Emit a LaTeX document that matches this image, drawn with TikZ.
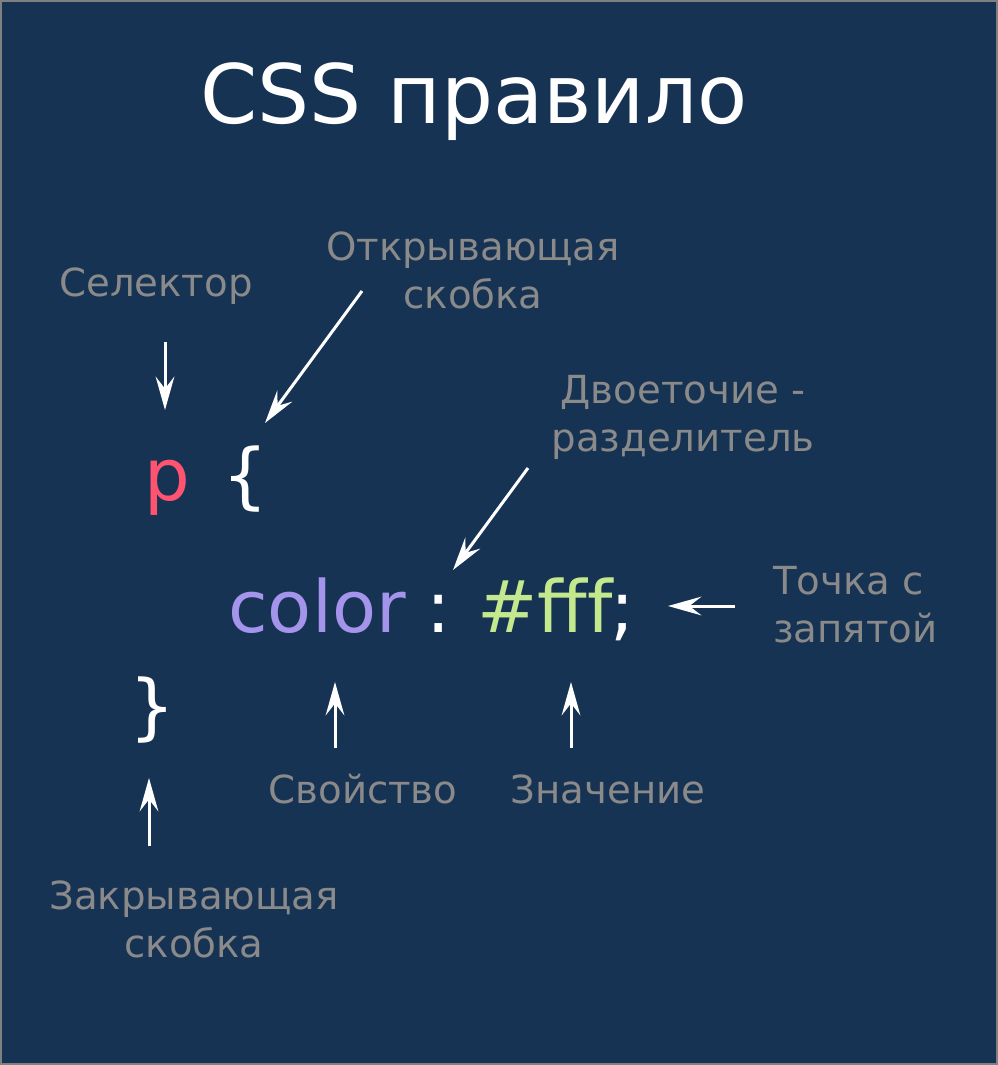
\documentclass[tikz,border=0pt]{standalone}
\usepackage{fontspec}
\setmainfont{DejaVu Sans}
\usepackage{tikz}
\usetikzlibrary{arrows.meta,positioning,calc}

\definecolor{bgblue}{HTML}{173354}
\definecolor{framegray}{HTML}{808080}
\definecolor{notegray}{HTML}{8A8A8A}
\definecolor{selpink}{HTML}{FF5370}
\definecolor{proppurple}{HTML}{A594EC}
\definecolor{valgreen}{HTML}{C3E88D}

\begin{document}
\begin{tikzpicture}[%
    x=0.75pt, y=-0.75pt,
    note/.style={text=notegray,font=\fontsize{29}{36}\selectfont,align=center,inner sep=0pt},
    code/.style={font=\fontsize{54}{60}\selectfont,inner sep=0pt,anchor=base},
    pointer/.style={draw=white,line width=2.25pt,
        -{Stealth[length=25pt,width=14pt,inset=9pt]}}
]

% ---------------- Background ----------------
\useasboundingbox (0,0) rectangle (998,1065);
\fill[bgblue] (0,0) rectangle (998,1065);
\draw[framegray,line width=1.5pt] (1,1) rectangle (997,1064);

% ---------------- Title ----------------
\node[code,text=white,font=\fontsize{61.5}{70}\selectfont] (title) at (474,123) {CSS правило};

% ---------------- Code ----------------
\node[code,text=selpink] (sel) at (167,500) {p};
\node[code,text=white] (open) at (245,500) {\{};
\node[code,text=proppurple] (prop) at (317,632) {color};
\node[code,text=white] (colon) at (439,632) {:};
\node[code,text=valgreen] (val) at (545,632) {\#fff};
\node[code,text=white] (semi) at (623,632) {;};
\node[code,text=white] (close) at (152,731) {\}};

% ---------------- Notes ----------------
\node[note] (nsel) at (156,286) {Селектор};
\node[note] (nopen) at (473,270) {Открывающая\\скобка};
\node[note] (ncolon) at (683,417) {Двоеточие -\\разделитель};
\node[note,align=left,anchor=west] (nsemi) at (773,605) {Точка с\\запятой};
\node[note] (nprop) at (363,789) {Свойство};
\node[note] (nval) at (608,789) {Значение};
\node[note] (nclose) at (194,919) {Закрывающая\\скобка};

% ---------------- Pointers ----------------
\foreach \n/\sx/\sy/\ex/\ey in {sel/165/342/165/410, open/362/291/265/423,
        colon/528/468/453/570, semi/735/606/668/606, prop/335/748/335/682,
        val/571/748/571/682, close/149/846/149/778} {
    \coordinate (\n-from) at (\sx,\sy);
    \coordinate (\n-to) at (\ex,\ey);
    \draw[pointer] (\n-from) -- (\n-to);
}

\end{tikzpicture}
\end{document}
